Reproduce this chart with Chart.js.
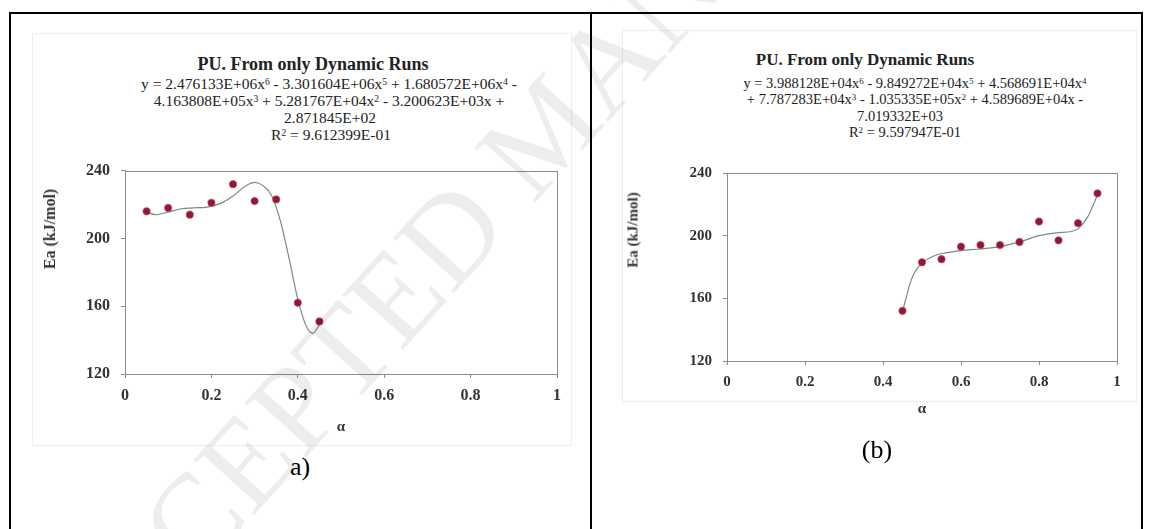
<!DOCTYPE html>
<html>
<head>
<meta charset="utf-8">
<script src="https://cdn.jsdelivr.net/npm/chart.js@4/dist/chart.umd.min.js"></script>
<style>
  html, body { margin:0; padding:0; background:#fff; }
  body { width:1152px; height:529px; position:relative; overflow:hidden; font-family:"Liberation Serif","Times New Roman",serif; }
  .frame { position:absolute; background:#000; }
  .area { position:absolute; border:1px solid #eeeeee; box-sizing:border-box; }
  .t { position:absolute; white-space:nowrap; transform:translate(-50%,-50%); color:#222; line-height:1; }
  .title { font-weight:bold; }
  .ytitle { font-weight:bold; font-size:16px; transform:translate(-50%,-50%) rotate(-90deg); color:#333; }
  sup { font-size:0.62em; vertical-align:0.45em; line-height:0; }
  canvas { position:absolute; }
  .wm { position:absolute; left:545px; top:130px; transform:translate(-50%,-50%) rotate(-48deg); font-size:125px; color:#000; opacity:0.07; white-space:nowrap; pointer-events:none; font-family:"Liberation Serif",serif; }
</style>
</head>
<body>
<div class="area" style="left:32px;top:33px;width:540px;height:413px;"></div>
<div class="area" style="left:622px;top:30px;width:515px;height:372px;"></div>

<canvas id="cA" width="560" height="300" style="left:20px;top:150px;"></canvas>
<canvas id="cB" width="520" height="297" style="left:620px;top:153px;"></canvas>

<div class="t title" style="left:313px;top:64px;font-size:18px;">PU. From only Dynamic Runs</div>
<div class="t" style="left:329px;top:84px;font-size:15.5px;">y = 2.476133E+06x<sup>6</sup> - 3.301604E+06x<sup>5</sup> + 1.680572E+06x<sup>4</sup> -</div>
<div class="t" style="left:329px;top:101px;font-size:15.5px;">4.163808E+05x<sup>3</sup> + 5.281767E+04x<sup>2</sup> - 3.200623E+03x +</div>
<div class="t" style="left:330px;top:118px;font-size:15.5px;">2.871845E+02</div>
<div class="t" style="left:331px;top:135px;font-size:15.5px;">R<sup>2</sup> = 9.612399E-01</div>
<div class="t ytitle" style="left:50px;top:229px;">Ea (kJ/mol)</div>
<div class="t" style="left:300px;top:467px;font-size:26px;color:#000;">a)</div>

<div class="t title" style="left:865px;top:59px;font-size:17px;">PU. From only Dynamic Runs</div>
<div class="t" style="left:915px;top:83px;font-size:14.5px;">y = 3.988128E+04x<sup>6</sup> - 9.849272E+04x<sup>5</sup> + 4.568691E+04x<sup>4</sup></div>
<div class="t" style="left:915px;top:99px;font-size:14.5px;">+ 7.787283E+04x<sup>3</sup> - 1.035335E+05x<sup>2</sup> + 4.589689E+04x -</div>
<div class="t" style="left:900px;top:116px;font-size:14.5px;">7.019332E+03</div>
<div class="t" style="left:905px;top:132px;font-size:14.5px;">R<sup>2</sup> = 9.597947E-01</div>
<div class="t ytitle" style="left:633px;top:230px;font-size:15px;">Ea (kJ/mol)</div>
<div class="t" style="left:877px;top:450px;font-size:26px;color:#000;">(b)</div>

<div class="frame" style="left:9px;top:12px;width:1134px;height:2px;"></div>
<div class="frame" style="left:9px;top:12px;width:2px;height:517px;"></div>
<div class="frame" style="left:590px;top:12px;width:2px;height:517px;"></div>
<div class="frame" style="left:1141px;top:12px;width:2px;height:517px;"></div>

<div class="wm">ACCEPTED MANUSCRIPT</div>

<script>
// ---- data ----
const xTicks = [0, 0.2, 0.4, 0.6, 0.8, 1];
const xTickLabels = ['0', '0.2', '0.4', '0.6', '0.8', '1'];
const yTicks = [120, 160, 200, 240];
const yTickLabels = ['120', '160', '200', '240'];

const alphaA = [0.05, 0.10, 0.15, 0.20, 0.25, 0.30, 0.35, 0.40, 0.45];
const eaA    = [216, 218, 214, 221, 232, 222, 223, 162, 151];
const fitAlphaA = [0.05, 0.07, 0.10, 0.13, 0.16, 0.19, 0.22, 0.25, 0.28, 0.30, 0.32, 0.34, 0.36, 0.38, 0.40, 0.42, 0.435, 0.45];
const fitEaA    = [215.5, 214, 215.5, 217.5, 218, 218.5, 220.5, 225, 231, 233, 231, 225, 210, 188, 164, 148, 144, 149];

const alphaB = [0.45, 0.50, 0.55, 0.60, 0.65, 0.70, 0.75, 0.80, 0.85, 0.90, 0.95];
const eaB    = [152, 183, 185, 193, 194, 194, 196, 209, 197, 208, 227];
const fitAlphaB = [0.45, 0.46, 0.47, 0.48, 0.50, 0.53, 0.56, 0.60, 0.65, 0.70, 0.75, 0.80, 0.85, 0.88, 0.90, 0.925, 0.95];
const fitEaB    = [151.5, 161, 170, 176, 182.5, 187, 189, 190.5, 191.5, 193, 196, 200, 202, 202.5, 204.5, 212, 226];

const FONT = '"Liberation Serif","Times New Roman",serif';
const pts = (xs, ys) => xs.map((x, i) => ({x: x, y: ys[i]}));
const labelFor = (vals, labels) => (v) => {
  const i = vals.findIndex(t => Math.abs(t - v) < 1e-9);
  return i >= 0 ? labels[i] : '';
};

const boxPlugin = {
  id: 'plotBox',
  beforeDatasetsDraw(chart) {
    const {ctx, chartArea: a} = chart;
    ctx.save();
    ctx.strokeStyle = '#8c8c8c';
    ctx.lineWidth = 1;
    ctx.strokeRect(Math.round(a.left) + 0.5, Math.round(a.top) + 0.5, Math.round(a.right - a.left), Math.round(a.bottom - a.top));
    ctx.restore();
  }
};

function makeChart(id, cfg) {
  return new Chart(document.getElementById(id), {
    type: 'scatter',
    data: {
      datasets: [
        {
          data: pts(cfg.fx, cfg.fy), showLine: true, pointRadius: 0,
          borderColor: '#7d8a80', borderWidth: 1.2, cubicInterpolationMode: 'monotone', order: 2
        },
        {
          data: pts(cfg.x, cfg.y), showLine: false, pointRadius: 3.6,
          pointBackgroundColor: '#8a1a35', pointBorderColor: 'rgba(200,60,90,0.55)', pointBorderWidth: 1.2, order: 1
        }
      ]
    },
    options: {
      responsive: false, animation: false, devicePixelRatio: 1,
      layout: { padding: { left: 0, top: 20, right: cfg.padRight, bottom: 0 } },
      plugins: { legend: { display: false }, tooltip: { enabled: false }, title: { display: false } },
      scales: {
        x: {
          type: 'linear', min: 0, max: 1,
          afterBuildTicks: s => { s.ticks = xTicks.map(v => ({value: v})); },
          afterFit: s => { s.height = cfg.xAxisH; },
          ticks: { color: '#333', font: { family: FONT, size: cfg.tickSize, weight: 'bold' }, padding: cfg.xTickPad, maxRotation: 0,
                   callback: labelFor(xTicks, xTickLabels) },
          grid: { display: true, drawOnChartArea: false, drawTicks: true, tickLength: 4, color: '#8c8c8c' },
          border: { display: true, color: '#8c8c8c' },
          title: { display: true, text: 'α', color: '#333', font: { family: FONT, size: 15, weight: 'bold' }, padding: { top: 0, bottom: cfg.xTitlePad } }
        },
        y: {
          type: 'linear', min: 120, max: 240,
          afterBuildTicks: s => { s.ticks = yTicks.map(v => ({value: v})); },
          afterFit: s => { s.width = cfg.yAxisW; },
          ticks: { color: '#333', font: { family: FONT, size: cfg.tickSize, weight: 'bold' }, padding: 11,
                   callback: labelFor(yTicks, yTickLabels) },
          grid: { display: true, drawOnChartArea: false, drawTicks: true, tickLength: 4, color: '#8c8c8c' },
          border: { display: true, color: '#8c8c8c' }
        }
      }
    },
    plugins: [boxPlugin]
  });
}

makeChart('cA', { x: alphaA, y: eaA, fx: fitAlphaA, fy: fitEaA, padRight: 23, yAxisW: 105, xAxisH: 76, tickSize: 16, xTickPad: 8, xTitlePad: 14 });
makeChart('cB', { x: alphaB, y: eaB, fx: fitAlphaB, fy: fitEaB, padRight: 23, yAxisW: 107, xAxisH: 89, tickSize: 15, xTickPad: 8, xTitlePad: 32 });
</script>
</body>
</html>
